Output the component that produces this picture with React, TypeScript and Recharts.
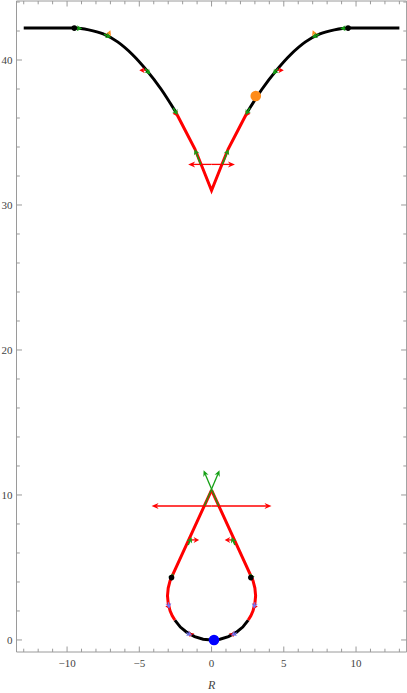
import React from 'react';
import { ComposedChart, Line, Scatter, XAxis, YAxis, ReferenceLine } from 'recharts';

// ---------- data ----------
const xTicks = [-13, -12, -11, -10, -9, -8, -7, -6, -5, -4, -3, -2, -1, 0, 1, 2, 3, 4, 5, 6, 7, 8, 9, 10, 11, 12, 13];
const yTicks = [0, 2, 4, 6, 8, 10, 12, 14, 16, 18, 20, 22, 24, 26, 28, 30, 32, 34, 36, 38, 40, 42, 44];
const xMajor = [-10, -5, 0, 5, 10];
const yMajor = [0, 10, 20, 30, 40];

const topLeftBlack = [
  { x: -13, y: 42.2 }, { x: -11.5, y: 42.2 }, { x: -9.5, y: 42.2 }, { x: -8.5, y: 42.08 },
  { x: -7.5, y: 41.8 }, { x: -6.5, y: 41.25 }, { x: -5.5, y: 40.4 }, { x: -4.5, y: 39.3 },
  { x: -3.5, y: 38.0 }, { x: -2.5, y: 36.45 },
];
const topRed = [
  { x: -2.5, y: 36.45 }, { x: -1.8, y: 35.1 }, { x: -1.15, y: 33.86 }, { x: -0.6, y: 32.5 },
  { x: 0, y: 31.0 }, { x: 0.6, y: 32.5 }, { x: 1.15, y: 33.86 }, { x: 1.8, y: 35.1 }, { x: 2.5, y: 36.45 },
];
const topRightBlack = [
  { x: 2.5, y: 36.45 }, { x: 3.5, y: 38.0 }, { x: 4.5, y: 39.3 }, { x: 5.5, y: 40.4 },
  { x: 6.5, y: 41.25 }, { x: 7.5, y: 41.8 }, { x: 8.5, y: 42.08 }, { x: 9.5, y: 42.2 },
  { x: 11.5, y: 42.2 }, { x: 13, y: 42.2 },
];
const loopLeftRed = [
  { x: 0, y: 10.34 }, { x: -2.77, y: 4.32 }, { x: -2.87, y: 4.09 }, { x: -3.0, y: 3.58 },
  { x: -3.05, y: 3.05 }, { x: -3.0, y: 2.52 }, { x: -2.87, y: 2.01 }, { x: -2.72, y: 1.67 }, { x: -2.54, y: 1.37 },
];
const loopBlack = [
  { x: -2.54, y: 1.37 }, { x: -2.16, y: 0.89 }, { x: -1.705, y: 0.52 }, { x: -1.167, y: 0.232 },
  { x: -0.582, y: 0.056 }, { x: 0, y: 0 }, { x: 0.582, y: 0.056 }, { x: 1.167, y: 0.232 },
  { x: 1.705, y: 0.52 }, { x: 2.16, y: 0.89 }, { x: 2.54, y: 1.37 },
];
const loopRightRed = [
  { x: 2.54, y: 1.37 }, { x: 2.72, y: 1.67 }, { x: 2.87, y: 2.01 }, { x: 3.0, y: 2.52 }, { x: 3.05, y: 3.05 },
  { x: 3.0, y: 3.58 }, { x: 2.87, y: 4.09 }, { x: 2.77, y: 4.32 }, { x: 0, y: 10.34 },
];

const blackDots = [{ x: -9.5, y: 42.2 }, { x: 9.45, y: 42.2 }, { x: -2.77, y: 4.3 }, { x: 2.72, y: 4.3 }];
const orangeDot = [{ x: 3.06, y: 37.52 }];
const blueDot = [{ x: 0.17, y: 0 }];

// vectors: base point (x, y) and components (dx, dy)
const greenLong = [
  { x: -0.5, y: 9.24, dx: 1.05, dy: 2.46 },
  { x: 0.5, y: 9.24, dx: -1.05, dy: 2.46 },
];
const greenShort = [
  { x: -9.55, y: 42.2, dx: 0.6, dy: -0.02 },
  { x: -7.45, y: 41.78, dx: 0.5, dy: -0.22 },
  { x: -4.6, y: 39.42, dx: 0.36, dy: -0.42 },
  { x: -2.65, y: 36.7, dx: 0.3, dy: -0.5 },
  { x: 9.5, y: 42.2, dx: -0.6, dy: -0.02 },
  { x: 7.45, y: 41.78, dx: -0.5, dy: -0.22 },
  { x: 4.6, y: 39.42, dx: -0.36, dy: -0.42 },
  { x: 2.65, y: 36.7, dx: -0.3, dy: -0.5 },
  { x: -0.75, y: 32.8, dx: -0.42, dy: 1.05 },
  { x: 0.75, y: 32.8, dx: 0.42, dy: 1.05 },
  { x: -1.62, y: 6.55, dx: 0.24, dy: 0.53 },
  { x: 1.62, y: 6.55, dx: -0.24, dy: 0.53 },
  { x: -2.82, y: 4.22, dx: 0.17, dy: 0.38 },
  { x: 2.82, y: 4.22, dx: -0.17, dy: 0.38 },
];
const redShort = [
  { x: -4.45, y: 39.3, dx: -0.55, dy: 0 },
  { x: -2.4, y: 36.3, dx: -0.3, dy: 0 },
  { x: 4.45, y: 39.3, dx: 0.55, dy: 0 },
  { x: 2.4, y: 36.3, dx: 0.3, dy: 0 },
  { x: -1.56, y: 6.9, dx: 0.7, dy: 0 },
  { x: 1.56, y: 6.9, dx: -0.65, dy: 0 },
  { x: -2.95, y: 2.3, dx: -0.25, dy: 0 },
  { x: 2.95, y: 2.3, dx: 0.25, dy: 0 },
  { x: -1.42, y: 0.45, dx: -0.1, dy: -0.25 },
  { x: 1.42, y: 0.45, dx: 0.1, dy: -0.25 },
];
const orangeShort = [
  { x: -7.15, y: 41.7, dx: 0.15, dy: 0.35 },
  { x: 7.15, y: 41.7, dx: -0.15, dy: 0.35 },
];
const purpleShort = [
  { x: -3.0, y: 2.6, dx: 0.07, dy: -0.45 },
  { x: -1.75, y: 0.5, dx: 0.4, dy: -0.2 },
  { x: 3.0, y: 2.6, dx: -0.07, dy: -0.45 },
  { x: 1.75, y: 0.5, dx: -0.4, dy: -0.2 },
];
const redLong = [
  { x: 0, y: 9.24, dx: -4.15, dy: 0 },
  { x: 0, y: 9.24, dx: 4.15, dy: 0 },
  { x: 0, y: 32.8, dx: -1.62, dy: 0 },
  { x: 0, y: 32.8, dx: 1.62, dy: 0 },
];

// ---------- styling ----------
const FRAME = '#9a9a9a';
const LABEL = '#444';
const FONT = '"Liberation Serif", "DejaVu Serif", serif';
const RED = '#ff0000';
const GREEN = '#14a014';
const ORANGE = '#ff8c1a';
const PURPLE = '#7474f4';

const fmt = (v: number) => (v < 0 ? '\u2212' + Math.abs(v) : String(v));

const BottomTick = (p: any) => {
  const { x, y, payload } = p;
  const v = payload.value;
  const major = xMajor.includes(v);
  return (
    <g>
      <line x1={x} x2={x} y1={y} y2={y - (major ? 5.5 : 3.3)} stroke={FRAME} strokeWidth={1} />
      {major && (
        <text x={x} y={y + 15} textAnchor="middle" fontFamily={FONT} fontSize={11} fill={LABEL}>
          {fmt(v)}
        </text>
      )}
    </g>
  );
};
const TopTick = (p: any) => {
  const { x, y, payload } = p;
  const major = xMajor.includes(payload.value);
  return <line x1={x} x2={x} y1={y} y2={y + (major ? 5.5 : 3.3)} stroke={FRAME} strokeWidth={1} />;
};
const LeftTick = (p: any) => {
  const { x, y, payload } = p;
  const v = payload.value;
  const major = yMajor.includes(v);
  return (
    <g>
      <line x1={x} x2={x + (major ? 5.5 : 3.3)} y1={y} y2={y} stroke={FRAME} strokeWidth={1} />
      {major && (
        <text x={x - 4} y={y + 3.8} textAnchor="end" fontFamily={FONT} fontSize={11} fill={LABEL}>
          {fmt(v)}
        </text>
      )}
    </g>
  );
};
const RightTick = (p: any) => {
  const { x, y, payload } = p;
  const major = yMajor.includes(payload.value);
  return <line x1={x} x2={x - (major ? 5.5 : 3.3)} y1={y} y2={y} stroke={FRAME} strokeWidth={1} />;
};

const makeArrow = (color: string, width: number, headLen: number, headHalf: number) => (p: any) => {
  const { x1, y1, x2, y2 } = p;
  const dx = x2 - x1;
  const dy = y2 - y1;
  const L = Math.hypot(dx, dy) || 1;
  const ux = dx / L;
  const uy = dy / L;
  const bx = x2 - ux * headLen;
  const by = y2 - uy * headLen;
  const nx = x2 - ux * headLen * 0.7;
  const ny = y2 - uy * headLen * 0.7;
  const px = -uy * headHalf;
  const py = ux * headHalf;
  return (
    <g>
      {L > headLen && <line x1={x1} y1={y1} x2={nx} y2={ny} stroke={color} strokeWidth={width} />}
      <polygon
        points={`${x2},${y2} ${bx + px},${by + py} ${nx},${ny} ${bx - px},${by - py}`}
        fill={color}
      />
    </g>
  );
};

const dotShape = (color: string, r: number, stroke?: string) => (p: any) => (
  <circle cx={p.cx} cy={p.cy} r={r} fill={color} stroke={stroke || 'none'} strokeWidth={stroke ? 1 : 0} />
);

const arrows = (list: any[], shape: any, key: string) =>
  list.map((a, i) => (
    <ReferenceLine
      key={`${key}-${i}`}
      segment={[{ x: a.x, y: a.y }, { x: a.x + a.dx, y: a.y + a.dy }]}
      shape={shape}
      ifOverflow="visible"
    />
  ));

export default function App() {
  return (
    <div style={{ position: 'absolute', left: 0, top: 0, width: 407, height: 693, background: '#fff' }}>
      <ComposedChart width={407} height={693} margin={{ top: 0, right: 0, bottom: 0, left: 0 }}>
        <XAxis
          xAxisId={0}
          dataKey="x"
          type="number"
          domain={[-13.5, 13.5]}
          ticks={xTicks}
          interval={0}
          allowDataOverflow
          height={41}
          stroke={FRAME}
          tickLine={false}
          tickSize={0}
          tickMargin={0}
          tick={<BottomTick />}
          label={{ value: 'R', position: 'insideBottom', offset: 4, style: { fontFamily: FONT, fontStyle: 'italic', fontSize: 12, fill: LABEL } }}
        />
        <XAxis
          xAxisId="top"
          orientation="top"
          dataKey="x"
          type="number"
          domain={[-13.5, 13.5]}
          ticks={xTicks}
          interval={0}
          allowDataOverflow
          height={1}
          stroke={FRAME}
          tickLine={false}
          tickSize={0}
          tickMargin={0}
          tick={<TopTick />}
        />
        <YAxis
          yAxisId={0}
          dataKey="y"
          type="number"
          domain={[-0.83, 44.07]}
          ticks={yTicks}
          interval={0}
          allowDataOverflow
          width={16.5}
          stroke={FRAME}
          tickLine={false}
          tickSize={0}
          tickMargin={0}
          tick={<LeftTick />}
        />
        <YAxis
          yAxisId="right"
          orientation="right"
          dataKey="y"
          type="number"
          domain={[-0.83, 44.07]}
          ticks={yTicks}
          interval={0}
          allowDataOverflow
          width={0.4}
          stroke={FRAME}
          tickLine={false}
          tickSize={0}
          tickMargin={0}
          tick={<RightTick />}
        />

        <Line data={topLeftBlack} dataKey="y" type="monotone" stroke="#000" strokeWidth={3} dot={false} activeDot={false} isAnimationActive={false} />
        <Line data={topRightBlack} dataKey="y" type="monotone" stroke="#000" strokeWidth={3} dot={false} activeDot={false} isAnimationActive={false} />
        <Line data={loopBlack} dataKey="y" type="linear" stroke="#000" strokeWidth={3} dot={false} activeDot={false} isAnimationActive={false} />
        <Line data={topRed} dataKey="y" type="linear" stroke={RED} strokeWidth={3} dot={false} activeDot={false} isAnimationActive={false} />
        <Line data={loopLeftRed} dataKey="y" type="linear" stroke={RED} strokeWidth={3} dot={false} activeDot={false} isAnimationActive={false} />
        <Line data={loopRightRed} dataKey="y" type="linear" stroke={RED} strokeWidth={3} dot={false} activeDot={false} isAnimationActive={false} />

        {arrows(redLong, makeArrow(RED, 1.3, 7, 3), 'rl')}
        {arrows(greenLong, makeArrow(GREEN, 1.3, 6, 2.8), 'gl')}
        {arrows(redShort, makeArrow(RED, 1.3, 5.5, 3), 'rs')}
        {arrows(orangeShort, makeArrow(ORANGE, 1.3, 5.5, 3), 'os')}
        {arrows(purpleShort, makeArrow(PURPLE, 1.3, 5.5, 3), 'ps')}
        {arrows(greenShort, makeArrow(GREEN, 1.5, 5.5, 3), 'gs')}

        <Scatter data={blackDots} dataKey="y" shape={dotShape('#000', 2.8)} isAnimationActive={false} />
        <Scatter data={orangeDot} dataKey="y" shape={dotShape(ORANGE, 5.3)} isAnimationActive={false} />
        <Scatter data={blueDot} dataKey="y" shape={dotShape('#0000ff', 5.3)} isAnimationActive={false} />
      </ComposedChart>
    </div>
  );
}
